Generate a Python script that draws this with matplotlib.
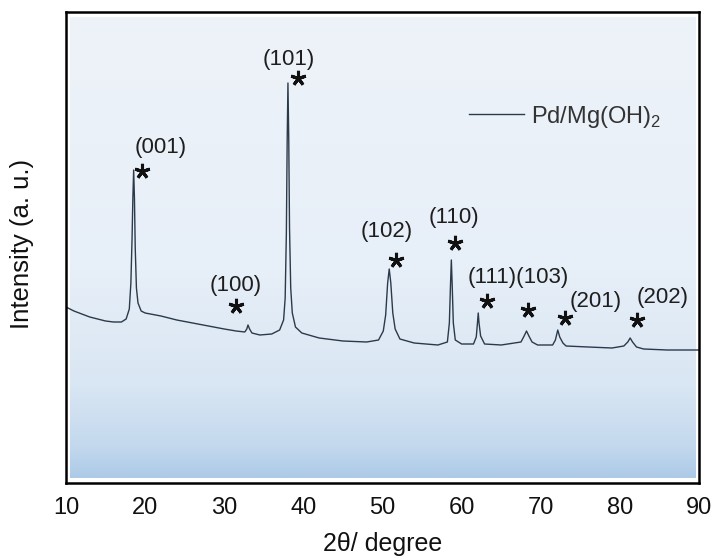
import numpy as np
import matplotlib.pyplot as plt
from matplotlib.colors import LinearSegmentedColormap

plt.rcParams['font.family'] = ['Liberation Sans', 'DejaVu Sans']
plt.rcParams['mathtext.fontset'] = 'custom'
plt.rcParams['mathtext.rm'] = 'Liberation Sans'

# ---- XRD trace (2theta in degrees, intensity in a.u.) ----
two_theta = [10, 11, 12, 13, 14, 15, 16, 17, 17.6, 18.0, 18.2, 18.35, 18.45, 18.55, 18.65,
             18.75, 18.9, 19.1, 19.5, 20, 22, 24, 26, 28, 30, 31.5, 32.6, 32.85, 33.0,
             33.2, 33.5, 34.5, 36, 37.0, 37.5, 37.7, 37.85, 37.95, 38.05, 38.15, 38.25,
             38.4, 38.6, 39.0, 39.8, 42, 45, 48, 49.5, 50.1, 50.4, 50.65, 50.85, 51.05,
             51.3, 51.6, 52.2, 54, 57, 58.2, 58.45, 58.6, 58.7, 58.8, 58.95, 59.2, 60,
             61.5, 61.85, 62.0, 62.1, 62.2, 62.4, 62.9, 65, 67.5, 67.9, 68.2, 68.5, 68.9,
             69.6, 71.5, 71.85, 72.15, 72.4, 72.8, 73.2, 76, 79, 80.5, 81.0, 81.3, 81.6,
             82.1, 83, 86, 90]
intensity = [176, 172, 169, 166, 164, 162, 161, 161, 164, 174, 200, 245, 285, 313, 285,
             235, 195, 180, 172, 170, 167, 163, 160, 157, 154, 152, 151, 154, 158,
             154, 150, 148, 149, 153, 163, 185, 250, 340, 400, 345, 255,
             195, 170, 156, 150, 145, 142, 141, 143, 152, 168, 200, 214, 200,
             170, 154, 144, 140, 138, 141, 160, 200, 223, 200, 160, 143, 139,
             139, 146, 160, 170, 160, 147, 139, 138, 141, 147, 152, 147, 141,
             138, 138, 143, 153, 146, 140, 137, 136, 135, 137, 141, 145, 141,
             136, 134, 133, 133]

# ---- Miller index labels and star marks ----
hkl_labels = ['(001)', '(100)', '(101)', '(102)', '(110)', '(111)(103)', '(201)', '(202)']
label_x = [22.0, 31.4, 38.1, 50.5, 59.05, 67.1, 77.0, 85.35]
label_y = [336, 198, 423, 251, 265, 205, 181, 186]
star_x = [19.6, 31.5, 39.3, 51.7, 59.1, 63.2, 68.4, 73.1, 82.15]
star_y = [312, 177, 405, 223, 240, 182, 173, 165, 163]

fig = plt.figure(figsize=(7.18, 5.58), dpi=100)
ax = fig.add_axes([66 / 718, 1 - 483 / 558, 633 / 718, 471 / 558])
ax.set_xlim(10, 90)
ax.set_ylim(0, 471)

# blue gradient panel, inset a little from the frame
grad_cmap = LinearSegmentedColormap.from_list(
    'panel', [(0.0, '#eef3f9'), (0.55, '#e7eff8'), (0.8, '#d9e6f3'),
              (0.93, '#c4d9ee'), (1.0, '#adcae7')])
ax.imshow(np.linspace(0, 1, 256).reshape(-1, 1), cmap=grad_cmap, aspect='auto',
          extent=(0.006, 0.994, 0.01, 0.988), transform=ax.transAxes, zorder=0)

ax.plot(two_theta, intensity, color='#2b3a4a', lw=1.0, zorder=2,
        label='Pd/Mg(OH)$_2$')
ax.plot(star_x, star_y, ls='none', marker=(5, 2, 0), ms=11, mew=2.2,
        color='#111111', zorder=3)
for txt, x, y in zip(hkl_labels, label_x, label_y):
    ax.text(x, y, txt, ha='center', va='center', fontsize=16, color='#1e1e1e')

leg = ax.legend(loc='center left', bbox_to_anchor=(0.637, 0.778), frameon=False,
                fontsize=17, handlelength=2.3, handletextpad=0.3,
                borderpad=0, borderaxespad=0)
for t in leg.get_texts():
    t.set_color('#333333')

for sp in ax.spines.values():
    sp.set_linewidth(1.8)
    sp.set_color('black')

ax.set_xticks(np.arange(10, 91, 10))
ax.set_yticks([])
ax.tick_params(axis='x', length=0, pad=10, labelsize=17, labelcolor='#111111')
ax.set_xlabel('2θ/ degree', fontsize=18, color='#111111')
ax.xaxis.set_label_coords(0.5, -0.13)
ax.xaxis.label.set_va('center')
ax.set_ylabel('Intensity (a. u.)', fontsize=18.5, color='#111111')
ax.yaxis.set_label_coords(-0.0695, 0.507)
ax.yaxis.label.set_va('center')

plt.savefig('out.png', dpi=100)
